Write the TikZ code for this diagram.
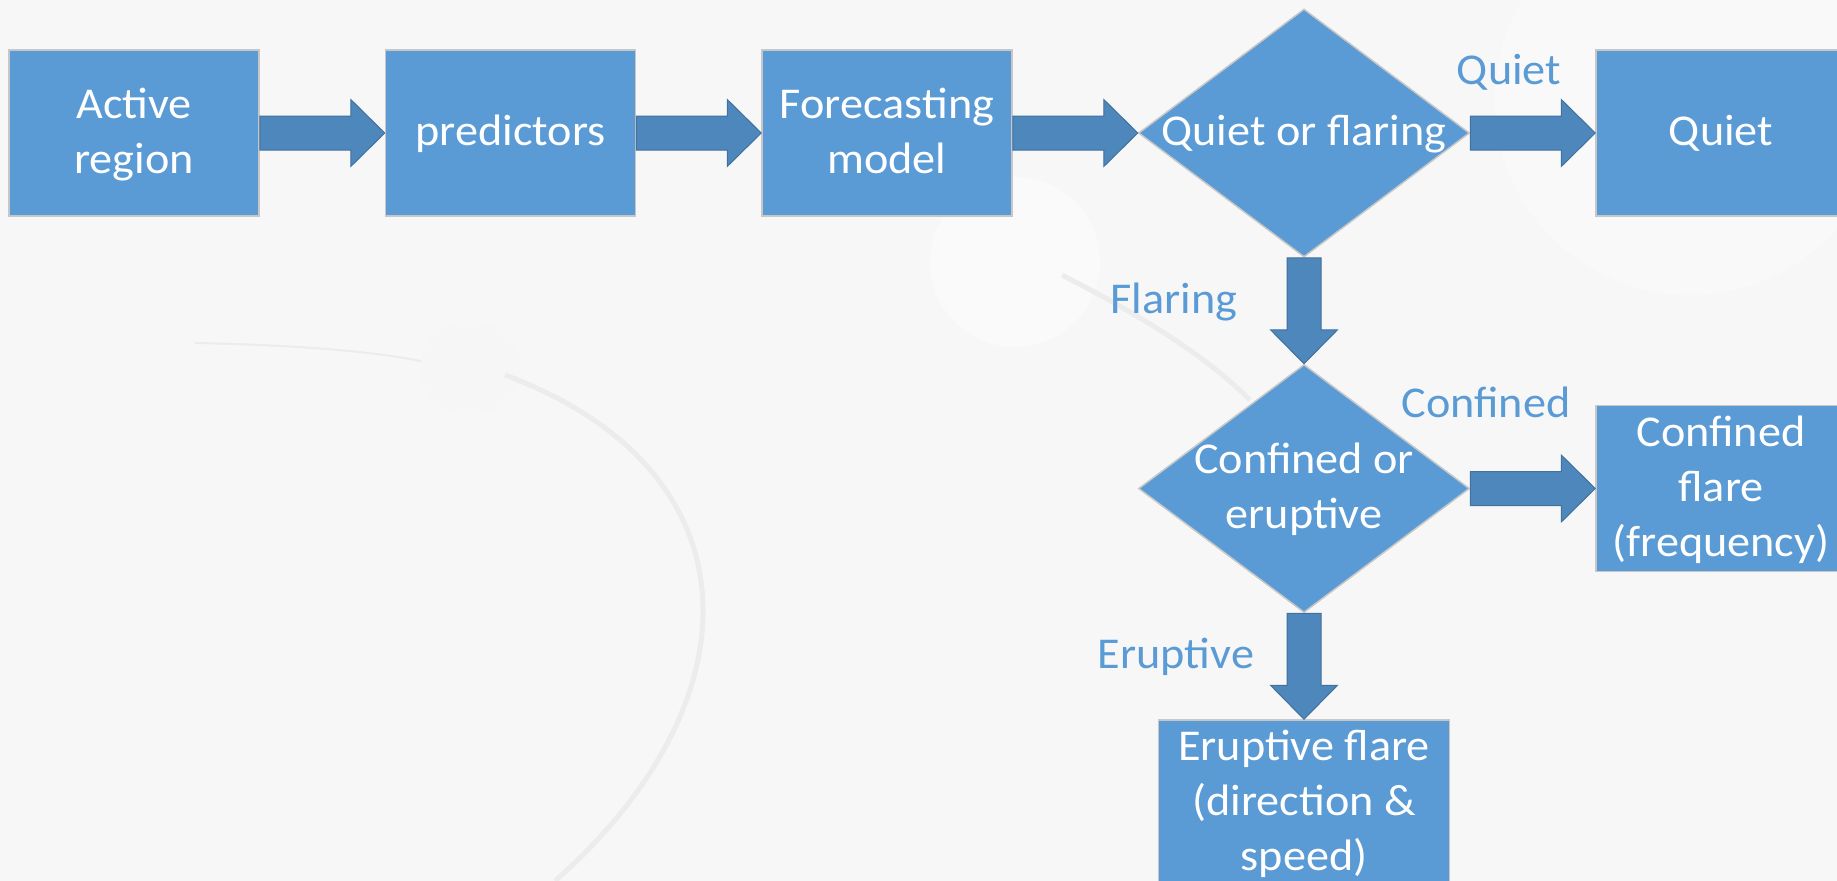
\documentclass[tikz,border=0pt]{standalone}
\usepackage{fontspec}
\setmainfont{Carlito}[FakeStretch=1.05]
\usepackage{tikz}
\usetikzlibrary{positioning,shapes.geometric,calc}
\definecolor{cbox}{RGB}{91,155,213}
\definecolor{carrow}{RGB}{78,135,188}
\definecolor{cedge}{RGB}{65,113,156}
\definecolor{cback}{RGB}{247,247,247}
\definecolor{corbit}{RGB}{236,236,236}
\newcommand{\tl}{\rule[-10pt]{0pt}{45pt}}

\begin{document}
\begin{tikzpicture}[x=1pt,y=-1pt,node distance=125pt,
  box node/.style={rectangle,fill=cbox,draw=black!22,line width=1.5pt,
    minimum width=250pt,minimum height=166pt,inner sep=0pt,text=white,align=center,
    font=\fontsize{44}{55}\selectfont},
  choice node/.style={diamond,fill=cbox,draw=black!22,line width=1.5pt,
    minimum width=331pt,minimum height=248pt,inner sep=0pt},
  choice text/.style={text=white,align=center,inner sep=0pt,
    font=\fontsize{44}{55}\selectfont},
  tag node/.style={text=cbox,anchor=base,inner sep=0pt,font=\fontsize{44}{55}\selectfont},
  block/.style={fill=carrow,draw=cedge,line width=1pt},
  right block/.style={to path={let \p1=(\tikztostart),\p2=(\tikztotarget) in
    (\x1,\y1+17pt) -- (\x2-34pt,\y1+17pt) -- (\x2-34pt,\y1+33.5pt) -- (\x2,\y1)
    -- (\x2-34pt,\y1-33.5pt) -- (\x2-34pt,\y1-17pt) -- (\x1,\y1-17pt) -- cycle}},
  down block/.style={to path={let \p1=(\tikztostart),\p2=(\tikztotarget) in
    (\x1-17pt,\y1) -- (\x1-17pt,\y2+34pt) -- (\x1-33.5pt,\y2+34pt) -- (\x1,\y2)
    -- (\x1+33.5pt,\y2+34pt) -- (\x1+17pt,\y2+34pt) -- (\x1+17pt,\y1) -- cycle}}]

  % background with the faint planets
  \fill[cback] (0,0) rectangle (1837,881);
  \useasboundingbox (0,0) rectangle (1837,881);
  \fill[white,opacity=.35] (1690,100) circle (195);
  \fill[white,opacity=.4] (1015,262) circle (85);
  \draw[corbit,line width=2pt] (195,343) .. controls (300,345) and (380,352) .. (425,362);
  \fill[corbit!50!white] (471,368) ellipse (50 and 47);
  \draw[corbit,line width=5pt] (505,375) .. controls (760,470) and (760,700) .. (555,881);
  \draw[corbit,line width=5pt] (1062,275) .. controls (1150,320) and (1210,360) .. (1250,400);

  \node[box node] (act) at (134,133) {\tl Active\\region\tl};
  \node[box node,right=of act] (pred) {\tl predictors\tl};
  \node[box node,right=of pred] (fcst) {\tl Forecasting\\model\tl};
  \node[choice node,right=of fcst] (qf) {};
  \node[choice text] (qft) at (qf) {\tl Quiet or flaring\tl};
  \node[box node,right=of qf] (quiet) {\tl Quiet\tl};
  \node[choice node,below=106pt of qf] (ce) {};
  \node[choice text] (cet) at (ce) {\tl Confined or\\eruptive\tl};
  \node[box node,right=of ce] (conf) {\tl Confined\\flare\\(frequency)\tl};
  \node[box node,minimum width=291pt,below=106pt of ce] (erup) {\tl Eruptive flare\\(direction \&\\speed)\tl};

  \path[block] (act.east) to[right block] (pred.west);
  \path[block] (pred.east) to[right block] (fcst.west);
  \path[block] (fcst.east) to[right block] (qf.west);
  \path[block] (qf.east) to[right block] (quiet.west);
  \path[block] (qf.south) to[down block] (ce.north);
  \path[block] (ce.east) to[right block] (conf.west);
  \path[block] (ce.south) to[down block] (erup.north);

  \node[tag node] (tquiet) at (1509,84) {Quiet};
  \node[tag node] (tflare) at (1174,313) {Flaring};
  \node[tag node] (tconf) at (1486,417) {Confined};
  \node[tag node] (terup) at (1176,668) {Eruptive};
\end{tikzpicture}
\end{document}
